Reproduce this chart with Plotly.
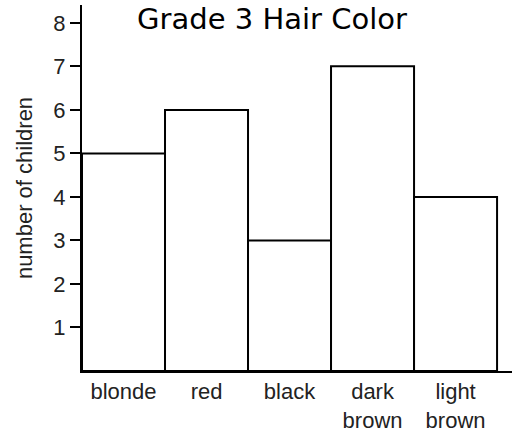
import plotly.graph_objects as go

categories = ["blonde", "red", "black", "dark<br>brown", "light<br>brown"]
children = [5, 6, 3, 7, 4]
y_ticks = [1, 2, 3, 4, 5, 6, 7, 8]

W, H = 516, 430
L, R, T, B = 82, 4, 5, 59

fig = go.Figure(
    go.Bar(
        x=categories,
        y=children,
        marker=dict(color="white", line=dict(color="black", width=2)),
        width=1,
        hoverinfo="skip",
    )
)

fig.update_layout(
    width=W,
    height=H,
    margin=dict(l=L, r=R, t=T, b=B, autoexpand=False),
    paper_bgcolor="white",
    plot_bgcolor="white",
    bargap=0,
    showlegend=False,
    font=dict(family="Liberation Sans, Arial, sans-serif", color="#222222"),
    title=dict(
        text="Grade 3 Hair Color",
        font=dict(family="Comic Sans MS, DejaVu Sans, sans-serif", size=29, color="black"),
        xref="container", yref="container",
        x=272 / W, y=1 - 19 / H,
        xanchor="center", yanchor="middle",
    ),
)

fig.update_xaxes(
    range=[-0.5, 4.68],
    showline=True, linecolor="black", linewidth=2,
    showgrid=False, zeroline=False, ticks="",
    tickfont=dict(size=22, color="#222222"),
    automargin=False,
)

fig.update_yaxes(
    range=[0, 8.41],
    tickvals=y_ticks,
    showline=True, linecolor="black", linewidth=2,
    showgrid=False, zeroline=False,
    ticks="outside", ticklen=10, tickwidth=2, tickcolor="black",
    tickfont=dict(size=22, color="#222222"),
    title=dict(text="number of children", font=dict(size=22, color="#222222"), standoff=15),
    automargin=False,
)

fig.write_html(
    "out.html",
    config={"displayModeBar": False, "staticPlot": True},
    post_script="document.body.style.margin='0';",
)
